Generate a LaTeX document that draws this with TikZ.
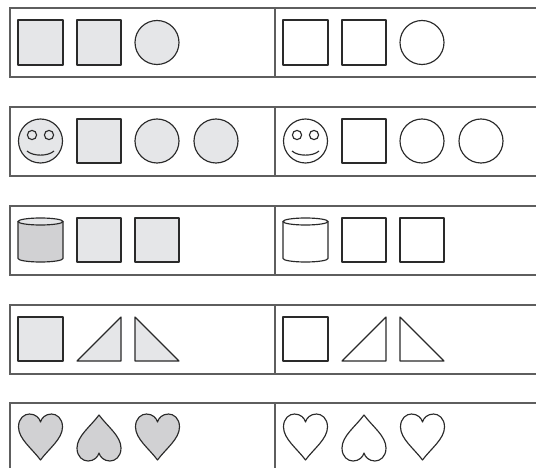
\documentclass[tikz,border=0pt]{standalone}
\definecolor{boxline}{HTML}{5E5E5E}
\definecolor{ink}{HTML}{2A2A2A}
\definecolor{light}{HTML}{E5E6E8}
\definecolor{dark}{HTML}{D1D1D3}
\tikzset{
  boxln/.style={draw=boxline, line width=1.4pt},
  shp/.style={draw=ink, line width=1.15pt, line join=round},
  heartpic/.pic={
    \path[pic actions] (0,23) .. controls (-8,12) and (-22,2) .. (-22,-10)
      .. controls (-22,-19) and (-16,-23) .. (-11,-23)
      .. controls (-5,-23) and (-1,-19) .. (0,-15)
      .. controls (1,-19) and (5,-23) .. (11,-23)
      .. controls (16,-23) and (22,-19) .. (22,-10)
      .. controls (22,2) and (8,12) .. (0,23) -- cycle;
  }
}
\begin{document}
\begin{tikzpicture}[x=1pt,y=-1pt]
\clip (0,0) rectangle (536,468);
\fill[white] (0,0) rectangle (536,468);
% boxes
\foreach \t in {8,107,206,305,403}{
  \draw[boxln] (545,\t) -- (10,\t) -- (10,\t+69) -- (545,\t+69);
  \draw[boxln] (275,\t) -- (275,\t+69);
}
\foreach \dx/\fa/\fb in {0/light/dark,265/white/white}{
\begin{scope}[xshift=\dx pt]
  % row 1
  \path[shp,fill=\fa] (18,20) rectangle (63,65);
  \path[shp,fill=\fa] (77,20) rectangle (121,65);
  \path[shp,fill=\fa] (157,42.5) circle[radius=22pt];
  % row 2
  \path[shp,fill=\fa] (40.5,141) circle[radius=22pt];
  \path[shp] (32,135) circle[radius=4.6pt];
  \path[shp] (49,135) circle[radius=4.6pt];
  \path[shp] (27,151) .. controls (33,156.5) and (48,156.5) .. (54,151);
  \path[shp,fill=\fa] (77,119) rectangle (121,163);
  \path[shp,fill=\fa] (157,141) circle[radius=22pt];
  \path[shp,fill=\fa] (216,141) circle[radius=22pt];
  % row 3
  \path[shp,fill=\fb] (18,221.5) -- (18,258.5)
     arc[start angle=180,end angle=360,x radius=22.5pt,y radius=3.5pt]
     -- (63,221.5) -- cycle;
  \path[shp,fill=\fa] (40.5,221.5) ellipse[x radius=22.5pt,y radius=3.5pt];
  \path[shp,fill=\fa] (77,218) rectangle (121,262);
  \path[shp,fill=\fa] (135,218) rectangle (179,262);
  % row 4
  \path[shp,fill=\fa] (18,317) rectangle (63,361);
  \path[shp,fill=\fa] (77,361) -- (121,317) -- (121,361) -- cycle;
  \path[shp,fill=\fa] (135,317) -- (135,361) -- (179,361) -- cycle;
  % row 5
  \pic[shp,fill=\fb] at (40.5,437) {heartpic};
  \pic[shp,fill=\fb,rotate=180] at (99,438) {heartpic};
  \pic[shp,fill=\fb] at (157.5,437) {heartpic};
\end{scope}
}
\end{tikzpicture}
\end{document}
